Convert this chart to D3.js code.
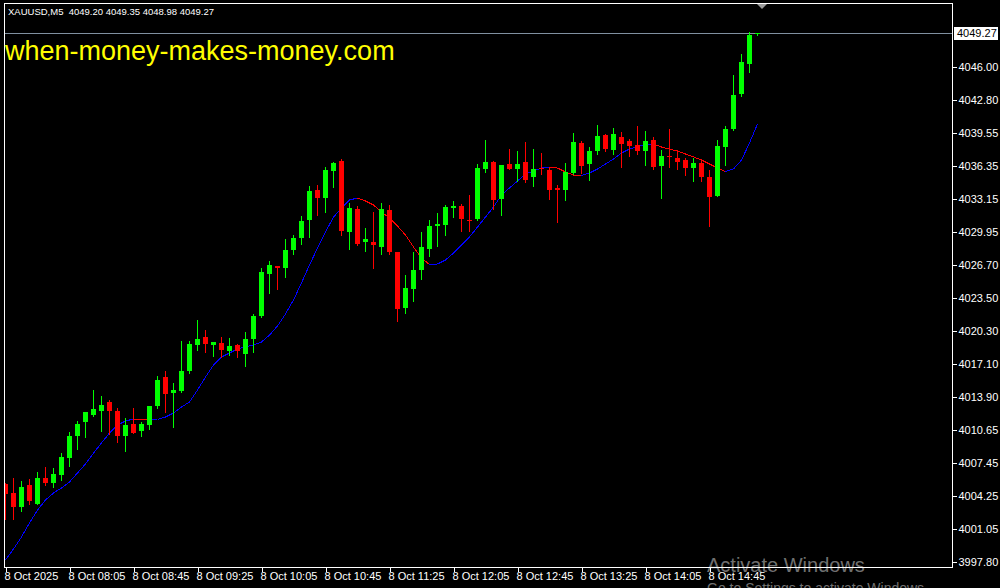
<!DOCTYPE html>
<html>
<head>
<meta charset="utf-8">
<script src="https://cdn.jsdelivr.net/npm/d3@7/dist/d3.min.js"></script>
<style>
  html, body { margin: 0; padding: 0; background: #000; }
  svg { display: block; }
  text { font-family: "Liberation Sans", Arial, sans-serif; }
</style>
</head>
<body>
<svg id="chart" width="1000" height="588"></svg>
<script>
// ---------------- data ----------------
const symbolTitle = "XAUUSD,M5  4049.20 4049.35 4048.98 4049.27";
const watermark = "when-money-makes-money.com";
const lastPrice = 4049.27;

const opens = [
4005.40, 4004.55, 4003.16, 4005.30, 4003.45, 4005.98, 4005.49, 4006.27, 4007.93, 4010.07,
4011.43, 4012.11, 4012.50, 4013.38, 4012.50, 4010.07, 4011.24, 4010.56, 4011.14, 4012.99,
4015.81, 4014.26, 4014.45, 4016.40, 4018.93, 4019.71, 4018.93, 4019.12, 4018.35, 4018.93,
4018.05, 4019.51, 4021.75, 4025.84, 4026.62, 4026.43, 4028.18, 4029.35, 4031.10, 4034.02,
4033.24, 4035.87, 4036.85, 4029.93, 4032.17, 4028.96, 4028.96, 4028.47, 4032.07, 4027.99,
4022.53, 4024.38, 4026.23, 4028.28, 4030.52, 4030.61, 4032.27, 4032.46, 4031.15, 4031.20,
4036.07, 4036.75, 4033.15, 4036.55, 4036.07, 4036.75, 4035.29, 4036.15, 4035.97, 4034.22,
4034.02, 4035.68, 4038.60, 4036.55, 4037.82, 4039.38, 4037.92, 4039.18, 4038.79, 4038.40,
4037.82, 4038.89, 4036.36, 4037.30, 4037.14, 4036.94, 4036.16, 4036.65, 4035.29, 4033.44,
4038.21, 4039.96, 4043.37, 4046.29, 4049.20];

const highs = [
4005.45, 4005.98, 4005.69, 4005.88, 4006.56, 4007.05, 4006.95, 4008.41, 4010.46, 4011.53,
4012.45, 4014.55, 4013.96, 4013.57, 4012.80, 4011.82, 4012.80, 4011.43, 4013.00, 4015.91,
4016.40, 4015.23, 4019.32, 4019.32, 4021.36, 4020.39, 4019.25, 4019.71, 4019.61, 4019.03,
4020.20, 4021.95, 4026.43, 4027.11, 4026.65, 4029.25, 4029.64, 4031.49, 4034.41, 4034.51,
4036.26, 4036.75, 4037.04, 4032.76, 4032.46, 4030.32, 4031.88, 4032.76, 4032.56, 4028.00,
4025.75, 4027.99, 4029.93, 4031.10, 4031.78, 4032.56, 4032.95, 4032.66, 4033.54, 4036.55,
4038.89, 4036.80, 4036.50, 4038.01, 4037.82, 4038.70, 4038.01, 4037.62, 4036.16, 4034.51,
4036.65, 4039.57, 4038.79, 4038.21, 4040.35, 4039.48, 4040.06, 4039.67, 4038.99, 4040.25,
4039.77, 4039.18, 4037.92, 4039.96, 4037.72, 4037.14, 4037.14, 4037.04, 4035.97, 4038.89,
4040.25, 4045.22, 4047.26, 4049.41, 4049.35];

const lows = [
4001.89, 4001.89, 4002.67, 4003.35, 4003.35, 4005.20, 4005.01, 4005.69, 4007.05, 4008.71,
4009.87, 4011.92, 4010.46, 4010.17, 4009.39, 4008.51, 4010.30, 4009.97, 4010.65, 4012.70,
4012.31, 4010.85, 4014.26, 4016.11, 4018.35, 4018.15, 4017.76, 4017.66, 4017.86, 4017.66,
4016.79, 4018.15, 4021.56, 4023.90, 4024.28, 4025.45, 4027.69, 4028.67, 4029.35, 4031.49,
4031.78, 4034.22, 4029.54, 4028.18, 4028.57, 4027.99, 4026.33, 4027.69, 4027.69, 4021.17,
4021.95, 4023.12, 4025.26, 4027.50, 4028.47, 4029.54, 4031.30, 4029.93, 4029.93, 4031.00,
4035.68, 4032.07, 4031.49, 4035.97, 4034.80, 4034.70, 4034.31, 4035.48, 4033.05, 4030.81,
4032.95, 4035.48, 4035.58, 4034.90, 4037.43, 4037.72, 4037.43, 4036.16, 4037.24, 4037.43,
4036.36, 4035.97, 4033.15, 4036.16, 4035.97, 4035.39, 4034.80, 4034.80, 4030.42, 4033.34,
4036.36, 4039.77, 4043.08, 4045.41, 4048.98];

const closes = [
4004.42, 4003.16, 4005.10, 4003.74, 4005.98, 4005.49, 4006.37, 4008.02, 4010.07, 4011.24,
4012.41, 4012.70, 4013.09, 4012.50, 4010.07, 4011.14, 4010.36, 4011.24, 4012.99, 4015.52,
4014.16, 4014.55, 4016.40, 4019.03, 4019.51, 4019.03, 4019.22, 4018.44, 4018.83, 4018.35,
4019.51, 4021.75, 4026.04, 4026.72, 4026.43, 4028.18, 4029.35, 4031.00, 4033.92, 4033.24,
4035.97, 4036.65, 4030.03, 4032.27, 4028.76, 4029.25, 4028.67, 4032.17, 4027.99, 4022.44,
4024.48, 4026.23, 4028.47, 4030.52, 4030.71, 4032.37, 4032.46, 4031.20, 4031.10, 4036.16,
4036.75, 4033.05, 4036.46, 4036.07, 4036.55, 4035.00, 4036.07, 4036.10, 4034.02, 4034.02,
4035.78, 4038.70, 4036.36, 4037.82, 4039.28, 4038.01, 4039.48, 4038.50, 4038.31, 4037.82,
4038.79, 4036.26, 4037.33, 4037.25, 4036.75, 4036.16, 4036.65, 4035.29, 4033.34, 4038.31,
4039.96, 4043.27, 4046.49, 4049.12, 4049.27];

const maValues = [
3998.00, 3999.07, 4000.23, 4001.60, 4002.86, 4003.84, 4004.52, 4005.01, 4005.59, 4006.47,
4007.34, 4008.41, 4009.39, 4010.36, 4011.14, 4011.53, 4011.72, 4011.68, 4011.63, 4011.68,
4011.92, 4012.31, 4012.89, 4013.38, 4014.55, 4015.81, 4016.98, 4017.76, 4018.15, 4018.54,
4018.74, 4018.93, 4019.22, 4019.90, 4020.78, 4021.95, 4023.31, 4024.97, 4026.72, 4028.37,
4029.93, 4031.39, 4032.27, 4033.05, 4033.24, 4032.95, 4032.56, 4031.88, 4031.30, 4030.52,
4029.64, 4028.47, 4027.40, 4026.77, 4026.82, 4027.21, 4027.89, 4028.67, 4029.45, 4030.42,
4031.39, 4032.37, 4033.54, 4034.22, 4034.90, 4035.58, 4035.87, 4036.16, 4036.26, 4036.16,
4035.78, 4035.48, 4035.43, 4035.68, 4036.07, 4036.55, 4037.04, 4037.62, 4038.01, 4038.26,
4038.40, 4038.50, 4038.21, 4038.01, 4037.82, 4037.53, 4037.24, 4036.94, 4036.55, 4036.16,
4035.82, 4036.07, 4036.94, 4038.60, 4040.45];

const priceTicks = [4046.00, 4042.80, 4039.55, 4036.35, 4033.15, 4029.95, 4026.70, 4023.50,
  4020.30, 4017.10, 4013.90, 4010.65, 4007.45, 4004.25, 4001.05, 3997.80];

const timeLabels = ["8 Oct 2025", "8 Oct 08:05", "8 Oct 08:45", "8 Oct 09:25", "8 Oct 10:05",
  "8 Oct 10:45", "8 Oct 11:25", "8 Oct 12:05", "8 Oct 12:45", "8 Oct 13:25", "8 Oct 14:05", "8 Oct 14:45"];
const timeLabelStep = 8;

// ---------------- layout ----------------
const W = 1000, H = 588;
const frame = {left: 4, top: 3, right: 952, bottom: 567};
const colUp = "#00ff00", colDown = "#ff0000";
const maUp = "#0000ff", maDown = "#ff0000";

const svg = d3.select("#chart");
svg.append("rect").attr("x", 0).attr("y", 0).attr("width", W).attr("height", H).attr("fill", "#000");

const n = closes.length;
const x = d3.scaleLinear().domain([0, n - 1]).range([5.5, 5.5 + 8 * (n - 1)]);
const y = d3.scaleLinear().domain([3997.80, 4046.00]).range([562, 67]);

const plot = svg.append("g");
svg.append("clipPath").attr("id", "clip").append("rect")
  .attr("x", frame.left).attr("y", frame.top)
  .attr("width", frame.right - frame.left).attr("height", frame.bottom - frame.top);
plot.attr("clip-path", "url(#clip)");

// current price line
plot.append("line")
  .attr("x1", frame.left).attr("x2", frame.right)
  .attr("y1", Math.round(y(lastPrice)) + 0.5).attr("y2", Math.round(y(lastPrice)) + 0.5)
  .attr("stroke", "#8090a0").attr("stroke-width", 1);

// MA line (colored by slope)
const maLine = d3.line().x(d => x(d.i)).y(d => y(d.v));
let prevCol = maUp;
for (let i = 0; i < n - 1; i++) {
  let col = maValues[i + 1] > maValues[i] ? maUp : (maValues[i + 1] < maValues[i] ? maDown : prevCol);
  prevCol = col;
  plot.append("path")
    .attr("d", maLine([{i: i, v: maValues[i]}, {i: i + 1, v: maValues[i + 1]}]))
    .attr("fill", "none").attr("stroke", col).attr("stroke-width", 1)
    .attr("shape-rendering", "crispEdges");
}

// candles
const candles = d3.range(n).map(i => ({i, o: opens[i], h: highs[i], l: lows[i], c: closes[i]}));
const cg = plot.selectAll("g.candle").data(candles).join("g").attr("class", "candle");
cg.append("rect")
  .attr("x", d => x(d.i) - 0.5)
  .attr("y", d => Math.round(y(d.h)))
  .attr("width", 1)
  .attr("height", d => Math.max(1, Math.round(y(d.l)) - Math.round(y(d.h))))
  .attr("fill", d => d.c >= d.o ? colUp : colDown)
  .attr("shape-rendering", "crispEdges");
cg.append("rect")
  .attr("x", d => x(d.i) - 2.5)
  .attr("y", d => Math.round(y(Math.max(d.o, d.c))))
  .attr("width", 5)
  .attr("height", d => Math.max(1, Math.round(y(Math.min(d.o, d.c))) - Math.round(y(Math.max(d.o, d.c)))))
  .attr("fill", d => d.c >= d.o ? colUp : colDown)
  .attr("shape-rendering", "crispEdges");

// frame
svg.append("rect")
  .attr("x", frame.left + 0.5).attr("y", frame.top + 0.5)
  .attr("width", frame.right - frame.left).attr("height", frame.bottom - frame.top)
  .attr("fill", "none").attr("stroke", "#ffffff").attr("stroke-width", 1)
  .attr("shape-rendering", "crispEdges");

// right axis
const yAxis = d3.axisRight(y).tickValues(priceTicks).tickSize(4).tickPadding(2)
  .tickFormat(d3.format(".2f"));
const ya = svg.append("g").attr("transform", `translate(${frame.right + 0.5},0)`).call(yAxis);
ya.select(".domain").remove();
ya.selectAll(".tick line").attr("stroke", "#fff").attr("shape-rendering", "crispEdges");
ya.selectAll(".tick text").attr("fill", "#fff").attr("font-size", 11)
  .attr("font-family", "'Liberation Sans', Arial, sans-serif");

// last price label
const lpY = Math.round(y(lastPrice));
svg.append("rect").attr("x", frame.right + 2).attr("y", lpY - 6).attr("width", 44).attr("height", 13)
  .attr("fill", "#fff");
svg.append("text").attr("x", frame.right + 5).attr("y", lpY + 4)
  .attr("font-size", 11).attr("fill", "#000").text(lastPrice.toFixed(2));

// bottom axis
const xAxis = d3.axisBottom(x)
  .tickValues(d3.range(0, timeLabels.length).map(k => k * timeLabelStep))
  .tickSize(4).tickPadding(1)
  .tickFormat(i => timeLabels[i / timeLabelStep]);
const xa = svg.append("g").attr("transform", `translate(0,${frame.bottom + 0.5})`).call(xAxis);
xa.select(".domain").remove();
xa.selectAll(".tick line").attr("stroke", "#fff").attr("shape-rendering", "crispEdges");
xa.selectAll(".tick text").attr("fill", "#fff").attr("font-size", 11)
  .attr("text-anchor", "start").attr("x", -1.5)
  .attr("font-family", "'Liberation Sans', Arial, sans-serif");

// header
svg.append("text").attr("x", 8).attr("y", 15).attr("font-size", 9.5).attr("fill", "#fff")
  .style("white-space", "pre").text(symbolTitle);

// watermark
svg.append("text").attr("x", 5).attr("y", 60).attr("font-size", 27).attr("fill", "#ffff00")
  .text(watermark);

// shift marker
svg.append("path")
  .attr("d", d3.line()([[757, 4], [767, 4], [762, 9]]) + "Z")
  .attr("fill", "#9a9a9a");

// windows activation overlay
svg.append("text").attr("x", 707).attr("y", 572).attr("font-size", 20)
  .attr("fill", "#ffffff").attr("fill-opacity", 0.45).text("Activate Windows");
svg.append("text").attr("x", 707).attr("y", 593).attr("font-size", 14)
  .attr("fill", "#ffffff").attr("fill-opacity", 0.45).text("Go to Settings to activate Windows.");
</script>
</body>
</html>
